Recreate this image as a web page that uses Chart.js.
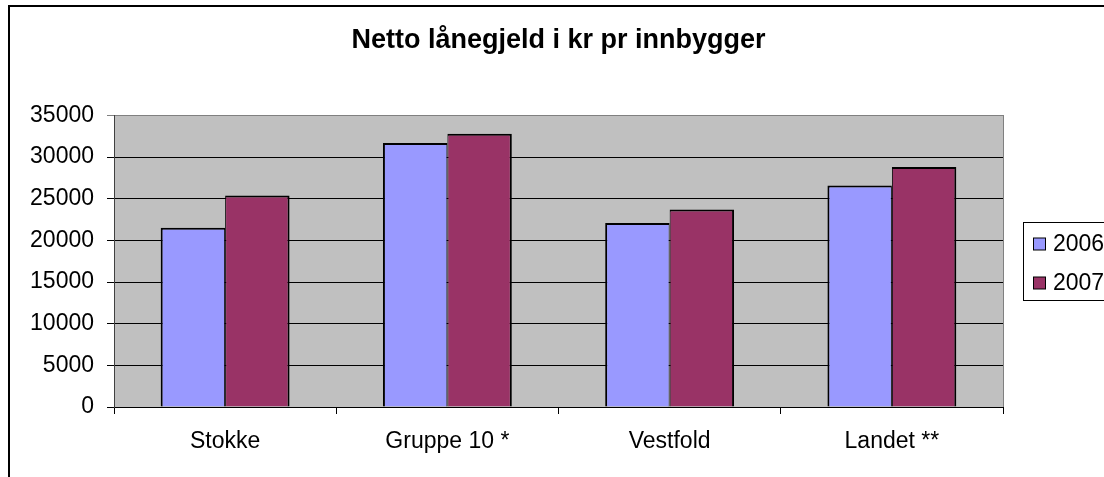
<!DOCTYPE html>
<html>
<head>
<meta charset="utf-8">
<title>Netto lånegjeld i kr pr innbygger</title>
<script src="https://cdn.jsdelivr.net/npm/chart.js@4/dist/chart.umd.min.js"></script>
<style>
    html, body { margin: 0; padding: 0; background: #ffffff; }
    #wrap { position: relative; width: 1104px; height: 477px; }
</style>
</head>
<body>
<div id="wrap"><canvas id="gjeld-chart" width="1104" height="477"></canvas></div>
<script>
// Data
const categories = ['Stokke', 'Gruppe 10 *', 'Vestfold', 'Landet **'];
const seriesNames = ['2006', '2007'];
const values2006 = [21500, 31700, 22100, 26600];
const values2007 = [25400, 32800, 23700, 28800];
const yMin = 0;
const yMax = 35000;
const yStep = 5000;

const FONT = "'Liberation Sans', Arial, sans-serif";

// Excel-like frame: outer border, grey plot area and boxed legend
const excelFrame = {
    id: 'excelFrame',
    beforeDraw(chart) {
        const ctx = chart.ctx;
        const a = chart.chartArea;
        ctx.save();
        ctx.fillStyle = '#ffffff';
        ctx.fillRect(0, 0, chart.width, chart.height);
        ctx.strokeStyle = '#000000';
        ctx.lineWidth = 2;
        ctx.strokeRect(9, 6, chart.width + 50, chart.height + 50);
        ctx.fillStyle = '#C0C0C0';
        ctx.fillRect(a.left, a.top, a.right - a.left, a.bottom - a.top);
        ctx.strokeStyle = '#808080';
        ctx.lineWidth = 1;
        ctx.strokeRect(Math.round(a.left) + 0.5, Math.round(a.top) + 0.5,
            Math.round(a.right - a.left), Math.round(a.bottom - a.top));
        ctx.restore();
    },
    afterDraw(chart) {
        const ctx = chart.ctx;
        const a = chart.chartArea;
        const boxLeft = Math.round(a.right) + 20;
        const boxTop = 222.5;
        const rowH = 39;
        const sets = chart.data.datasets;
        ctx.save();
        ctx.fillStyle = '#ffffff';
        ctx.fillRect(boxLeft, boxTop, 200, rowH * sets.length);
        ctx.strokeStyle = '#000000';
        ctx.lineWidth = 1;
        ctx.strokeRect(boxLeft + 0.5, boxTop, 200, rowH * sets.length);
        ctx.font = '23px ' + FONT;
        ctx.textBaseline = 'middle';
        ctx.textAlign = 'left';
        sets.forEach((ds, i) => {
            const cy = boxTop + 21 + i * rowH;
            ctx.fillStyle = ds.backgroundColor;
            ctx.fillRect(boxLeft + 10.5, cy - 5.5, 12, 12);
            ctx.strokeRect(boxLeft + 10.5, cy - 5.5, 12, 12);
            ctx.fillStyle = '#000000';
            ctx.fillText(ds.label, boxLeft + 30, cy + 1);
        });
        ctx.restore();
    }
};

const chart = new Chart(document.getElementById('gjeld-chart').getContext('2d'), {
    type: 'bar',
    data: {
        labels: categories,
        datasets: [{
            label: seriesNames[0],
            data: values2006,
            backgroundColor: '#9999FF',
            borderColor: '#000000',
            borderWidth: { top: 2, left: 2, right: 1, bottom: 0 }
        }, {
            label: seriesNames[1],
            data: values2007,
            backgroundColor: '#993366',
            borderColor: '#000000',
            borderWidth: { top: 2, left: 1, right: 2, bottom: 0 }
        }]
    },
    options: {
        responsive: false,
        animation: false,
        devicePixelRatio: 1,
        layout: {
            padding: { left: 0, right: 101, top: 0, bottom: 0 }
        },
        datasets: {
            bar: {
                categoryPercentage: 0.58,
                barPercentage: 1.0
            }
        },
        scales: {
            x: {
                grid: {
                    offset: true,
                    drawOnChartArea: false,
                    drawTicks: true,
                    tickLength: 7,
                    color: '#000000'
                },
                border: { display: true, color: '#000000', width: 1 },
                ticks: {
                    color: '#000000',
                    padding: 14,
                    font: { family: FONT, size: 23 }
                },
                afterFit(scale) { scale.height = 70; }
            },
            y: {
                min: yMin,
                max: yMax,
                ticks: {
                    stepSize: yStep,
                    color: '#000000',
                    padding: 13,
                    font: { family: FONT, size: 23 },
                    callback: (v) => String(v)
                },
                grid: {
                    tickLength: 7,
                    color: (c) => (c.tick && c.tick.value === yMax ? '#808080' : '#000000')
                },
                border: { display: true, color: '#404040', width: 1 },
                afterFit(scale) { scale.width = 114; }
            }
        },
        plugins: {
            legend: { display: false },
            tooltip: { enabled: false },
            title: {
                display: true,
                fullSize: false,
                text: 'Netto lånegjeld i kr pr innbygger',
                color: '#000000',
                font: { family: FONT, size: 27, weight: 'bold' },
                padding: { top: 24, bottom: 59 }
            }
        }
    },
    plugins: [excelFrame]
});
</script>
</body>
</html>
